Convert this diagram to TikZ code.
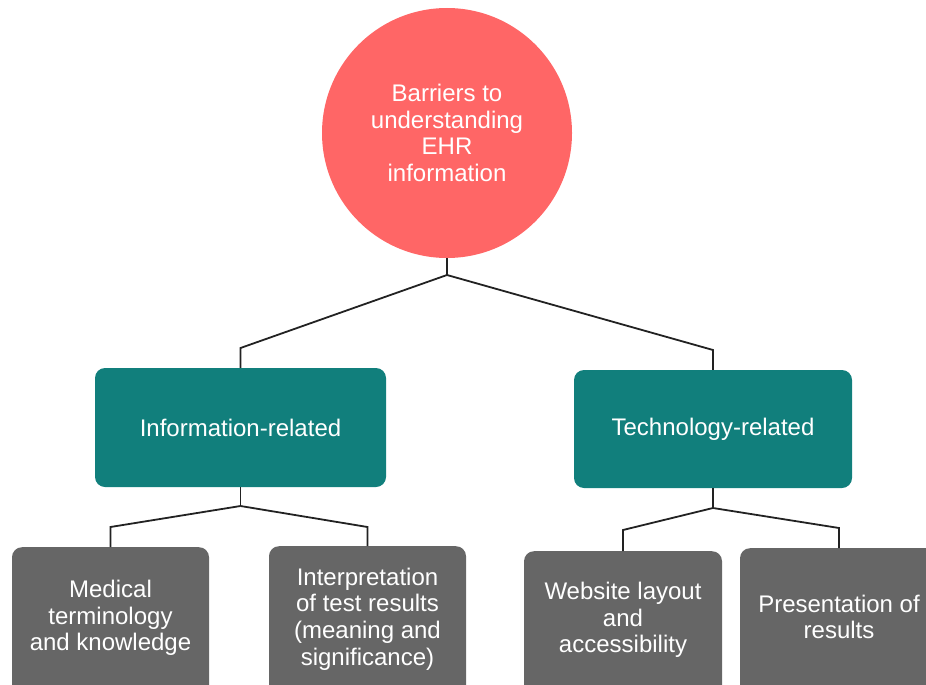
\documentclass[tikz,border=0pt]{standalone}
\usepackage{fontspec}
\setmainfont{Liberation Sans}
\usetikzlibrary{calc}
\definecolor{rootred}{HTML}{FF6666}
\definecolor{midteal}{HTML}{117F7C}
\definecolor{lowgray}{HTML}{666666}
\definecolor{linecol}{HTML}{222222}
\tikzset{
  txt/.style={text=white, font=\fontsize{24}{26.7}\selectfont, align=center},
  rootnode/.style={circle, fill=rootred, draw=none, minimum size=250pt, inner sep=0pt, txt},
  midbox/.style={rectangle, rounded corners=10pt, fill=midteal, draw=none, inner sep=0pt, txt},
  lowbox/.style={rectangle, rounded corners=10pt, fill=lowgray, draw=none, inner sep=0pt, minimum width=197pt, minimum height=150pt, anchor=north},
  lowtxt/.style={txt, inner sep=0pt},
  conn/.style={draw=linecol, line width=1.8pt, line join=miter}
}
\begin{document}
\begin{tikzpicture}[x=1pt, y=-1pt]
\useasboundingbox (0,0) rectangle (926,685);
\clip (0,0) rectangle (926,685);

% root
\node[rootnode] (root) at (447,133) {Barriers to\\understanding\\EHR\\information};

% middle boxes
\node[midbox, minimum width=291pt, minimum height=119pt] (info) at (240.5,427.5) {Information-related};
\node[midbox, minimum width=278pt, minimum height=118pt] (tech) at (713,429) {Technology-related};

% low boxes
\node[lowbox] (med) at (110.5,547) {};
\node[lowbox] (interp) at (367.5,546) {};
\node[lowbox, minimum width=198pt] (web) at (623,551) {};
\node[lowbox, minimum width=198pt] (pres) at (839,548) {};

\node[lowtxt] (medtxt) at ($(med.north)+(0,71)$) {Medical\\terminology\\and knowledge};
\node[lowtxt] (interptxt) at ($(interp.north)+(0,73)$) {Interpretation\\of test results\\(meaning and\\significance)};
\node[lowtxt] (webtxt) at ($(web.north)+(0,69)$) {Website layout\\and\\accessibility};
\node[lowtxt] (prestxt) at ($(pres.north)+(0,69)$) {Presentation of\\results};

% junction coordinates
\coordinate (j0) at (447,275);
\coordinate (jl) at (240.5,348);
\coordinate (jr) at (713,350);
\coordinate (j1) at (240.5,506);
\coordinate (j1l) at (110.5,527);
\coordinate (j1r) at (367.5,527);
\coordinate (j2) at (713,508);
\coordinate (j2l) at (623,530);
\coordinate (j2r) at (839,528);

% connectors
\draw[conn] (root.south) -- (j0);
\draw[conn] (j0) -- (jl) -- (info.north);
\draw[conn] (j0) -- (jr) -- (tech.north);
\draw[conn] (info.south) -- (j1);
\draw[conn] (j1) -- (j1l) -- (med.north);
\draw[conn] (j1) -- (j1r) -- (interp.north);
\draw[conn] (tech.south) -- (j2);
\draw[conn] (j2) -- (j2l) -- (web.north);
\draw[conn] (j2) -- (j2r) -- (pres.north);
\end{tikzpicture}
\end{document}
